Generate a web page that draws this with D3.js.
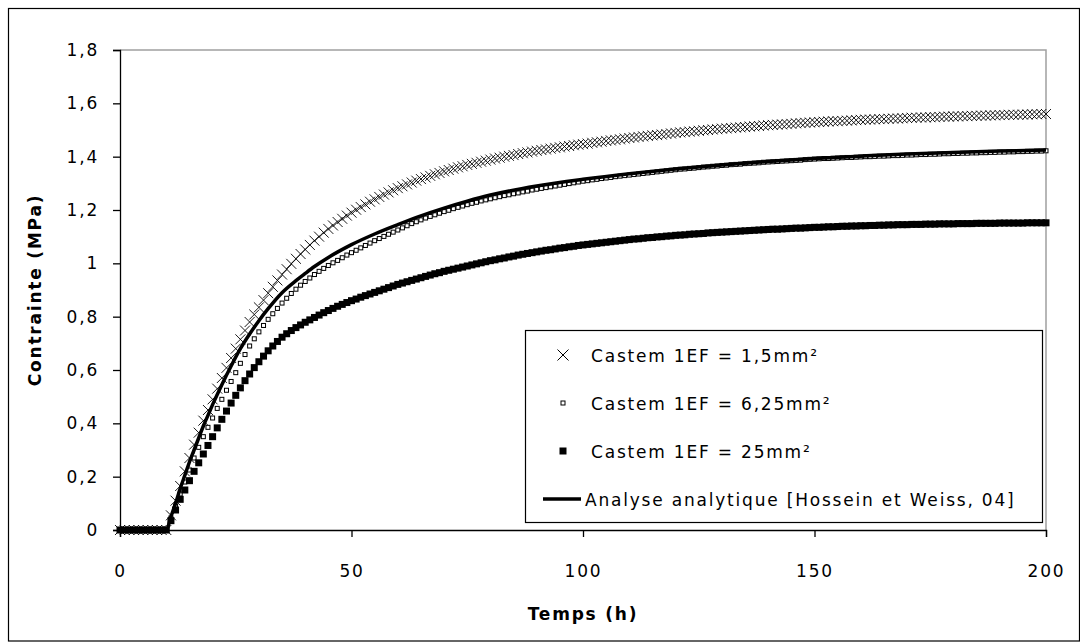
<!DOCTYPE html>
<html><head><meta charset="utf-8">
<script src="https://cdn.jsdelivr.net/npm/d3@7"></script>
<style>body{margin:0;background:#fff} svg text{font-family:"DejaVu Sans",sans-serif;fill:#000}</style>
</head><body><svg id="c" width="1080" height="642"></svg>
<script>
// ---------- DATA ----------
const hours = d3.range(0, 201, 1); // hourly sampling grid, t = 0..200 h

const castem15 = [0,0,0,0,0,0,0,0,0,0, 0,
0.055,0.11,0.165,0.22,0.27,0.32,0.365,0.41,0.45,0.49,
0.53,0.57,0.608,0.645,0.68,0.715,0.748,0.78,0.808,0.835,
0.862,0.888,0.912,0.936,0.958,0.978,0.998,1.017,1.035,1.052,
1.069,1.085,1.100,1.115,1.129,1.142,1.155,1.167,1.179,1.190,
1.201,1.211,1.221,1.231,1.240,1.249,1.258,1.266,1.274,1.282,
1.289,1.296,1.303,1.310,1.316,1.322,1.328,1.334,1.339,1.345,
1.350,1.355,1.360,1.364,1.369,1.373,1.377,1.381,1.385,1.389,
1.393,1.396,1.400,1.403,1.406,1.410,1.413,1.416,1.419,1.422,
1.425,1.427,1.430,1.433,1.435,1.438,1.440,1.443,1.445,1.447,
1.449,1.452,1.454,1.456,1.459,1.461,1.463,1.465,1.468,1.470,
1.472,1.474,1.476,1.478,1.480,1.481,1.483,1.485,1.487,1.489,
1.491,1.492,1.494,1.495,1.497,1.499,1.500,1.502,1.503,1.505,
1.506,1.507,1.509,1.510,1.511,1.513,1.514,1.515,1.517,1.518,
1.519,1.520,1.521,1.522,1.523,1.525,1.526,1.527,1.528,1.529,
1.530,1.531,1.532,1.533,1.533,1.534,1.535,1.536,1.537,1.538,
1.539,1.539,1.540,1.541,1.541,1.542,1.543,1.543,1.544,1.545,
1.546,1.546,1.547,1.547,1.548,1.548,1.549,1.550,1.550,1.551,
1.551,1.552,1.552,1.553,1.553,1.554,1.554,1.555,1.555,1.556,
1.556,1.557,1.557,1.557,1.558,1.558,1.559,1.559,1.560,1.560];

const castem625 = [0,0,0,0,0,0,0,0,0,0, 0,
0.045,0.09,0.135,0.18,0.225,0.27,0.31,0.35,0.385,0.42,
0.456,0.49,0.524,0.557,0.59,0.625,0.658,0.69,0.717,0.743,
0.767,0.79,0.811,0.831,0.851,0.869,0.887,0.903,0.918,0.932,
0.945,0.958,0.970,0.981,0.992,1.002,1.011,1.021,1.031,1.040,
1.049,1.058,1.067,1.076,1.085,1.093,1.101,1.109,1.117,1.125,
1.133,1.141,1.149,1.156,1.163,1.170,1.176,1.182,1.188,1.194,
1.199,1.205,1.210,1.215,1.220,1.225,1.229,1.234,1.238,1.242,
1.246,1.250,1.254,1.257,1.261,1.264,1.268,1.271,1.275,1.278,
1.281,1.284,1.287,1.290,1.293,1.296,1.299,1.302,1.305,1.308,
1.310,1.313,1.315,1.318,1.320,1.322,1.325,1.327,1.329,1.331,
1.333,1.335,1.337,1.339,1.341,1.343,1.345,1.347,1.349,1.351,
1.353,1.354,1.356,1.357,1.359,1.361,1.362,1.364,1.365,1.367,
1.368,1.370,1.371,1.372,1.374,1.375,1.376,1.377,1.379,1.380,
1.381,1.382,1.383,1.384,1.385,1.386,1.387,1.389,1.390,1.391,
1.392,1.393,1.393,1.394,1.395,1.396,1.397,1.397,1.398,1.399,
1.400,1.400,1.401,1.402,1.402,1.403,1.404,1.404,1.405,1.406,
1.406,1.407,1.408,1.408,1.409,1.409,1.410,1.411,1.411,1.412,
1.412,1.413,1.413,1.414,1.414,1.415,1.415,1.416,1.416,1.417,
1.417,1.418,1.418,1.419,1.419,1.420,1.420,1.421,1.421,1.422];

const castem25 = [0,0,0,0,0,0,0,0,0,0, 0,
0.035,0.075,0.115,0.15,0.185,0.22,0.252,0.285,0.317,0.35,
0.383,0.415,0.446,0.476,0.505,0.533,0.56,0.585,0.609,0.631,
0.652,0.672,0.690,0.707,0.723,0.736,0.748,0.759,0.769,0.779,
0.788,0.797,0.806,0.815,0.823,0.831,0.839,0.846,0.853,0.860,
0.866,0.873,0.879,0.885,0.891,0.897,0.903,0.909,0.915,0.921,
0.926,0.931,0.936,0.941,0.946,0.951,0.956,0.961,0.965,0.970,
0.974,0.978,0.982,0.986,0.990,0.994,0.998,1.002,1.006,1.010,
1.013,1.017,1.020,1.024,1.027,1.031,1.034,1.037,1.040,1.043,
1.046,1.049,1.051,1.054,1.057,1.059,1.062,1.064,1.067,1.069,
1.071,1.073,1.075,1.077,1.079,1.081,1.083,1.085,1.087,1.089,
1.091,1.092,1.094,1.096,1.097,1.099,1.100,1.102,1.103,1.105,
1.106,1.107,1.109,1.110,1.111,1.112,1.114,1.115,1.116,1.117,
1.118,1.119,1.120,1.121,1.122,1.123,1.124,1.125,1.126,1.127,
1.128,1.128,1.129,1.130,1.131,1.132,1.132,1.133,1.134,1.135,
1.135,1.136,1.137,1.137,1.138,1.139,1.139,1.140,1.140,1.141,
1.141,1.142,1.142,1.143,1.143,1.144,1.144,1.145,1.145,1.145,
1.146,1.146,1.146,1.147,1.147,1.147,1.148,1.148,1.148,1.148,
1.149,1.149,1.149,1.149,1.150,1.150,1.150,1.150,1.150,1.151,
1.151,1.151,1.151,1.151,1.151,1.152,1.152,1.152,1.152,1.152];

const analyticT = [0,10,11,12,13,14,15,16,17,18,19,20,22,24,26,28,30,32,35,38,40,42,45,50,55,60,65,70,75,80,90,100,110,120,130,140,150,160,170,180,190,200];
const analyticV = [0,0,0.05,0.10,0.155,0.205,0.255,0.30,0.345,0.39,0.43,0.47,0.545,0.615,0.68,0.735,0.785,0.83,0.89,0.935,0.962,0.988,1.022,1.07,1.11,1.145,1.178,1.207,1.233,1.256,1.290,1.315,1.336,1.354,1.369,1.382,1.393,1.402,1.410,1.416,1.421,1.425];

const xTicks = [0,50,100,150,200];
const xTickLabels = ["0","50","100","150","200"];
const yTicks = [0,0.2,0.4,0.6,0.8,1,1.2,1.4,1.6,1.8];
const yTickLabels = ["0","0,2","0,4","0,6","0,8","1","1,2","1,4","1,6","1,8"];
const legendLabels = ["Castem 1EF = 1,5mm²","Castem 1EF = 6,25mm²","Castem 1EF = 25mm²","Analyse analytique [Hossein et Weiss, 04]"];
const xTitle = "Temps (h)";
const yTitle = "Contrainte (MPa)";

// ---------- DRAW ----------
const svg = d3.select("#c");
const FS = "17px", LS = "1.8px";
svg.append("rect").attr("x",0).attr("y",0).attr("width",1080).attr("height",642).attr("fill","#fff");
svg.append("rect").attr("x",8.5).attr("y",8.5).attr("width",1071).attr("height",632.5)
  .attr("fill","none").attr("stroke","#000").attr("stroke-width",1.2);

const x = d3.scaleLinear().domain([0,200]).range([120,1046]);
const y = d3.scaleLinear().domain([0,1.8]).range([530,50]);

// plot area border (top & right, gray)
svg.append("path").attr("d",`M${x(0)},${y(1.8)}H${x(200)}V${y(0)}`)
  .attr("fill","none").attr("stroke","#a0a0a0").attr("stroke-width",1.5);

const gx = svg.append("g").attr("transform",`translate(0,${y(0)})`)
  .call(d3.axisBottom(x).tickValues(xTicks).tickSize(7).tickPadding(28)
    .tickFormat((d,i)=>xTickLabels[i]));
const gy = svg.append("g").attr("transform",`translate(${x(0)},0)`)
  .call(d3.axisLeft(y).tickValues(yTicks).tickSize(7).tickPadding(14)
    .tickFormat((d,i)=>yTickLabels[i]));
[gx,gy].forEach(g=>{
  g.selectAll("path,line").attr("stroke","#000").attr("stroke-width",1.3);
  g.selectAll("text").attr("font-size",FS).style("letter-spacing",LS).attr("font-family","DejaVu Sans");
});

svg.append("text").attr("x",(x(0)+x(200))/2).attr("y",620).attr("text-anchor","middle")
  .attr("font-size",FS).attr("font-weight","bold").style("letter-spacing",LS).text(xTitle);
svg.append("text").attr("transform",`translate(41,${(y(0)+y(1.8))/2}) rotate(-90)`)
  .attr("text-anchor","middle").attr("font-size",FS).attr("font-weight","bold")
  .style("letter-spacing",LS).text(yTitle);

const crossPath = s => `M${-s},${-s}L${s},${s}M${-s},${s}L${s},${-s}`;

// series 1: crosses
svg.append("g").selectAll("path").data(hours).join("path")
  .attr("transform",(d,i)=>`translate(${x(d)},${y(castem15[i])})`)
  .attr("d",crossPath(5)).attr("stroke","#000").attr("stroke-width",0.9).attr("fill","none");
// series 2: small hollow squares
svg.append("g").selectAll("rect").data(hours).join("rect")
  .attr("x",d=>x(d)-2).attr("y",(d,i)=>y(castem625[i])-2).attr("width",4).attr("height",4)
  .attr("fill","#fff").attr("stroke","#000").attr("stroke-width",1);
// series 3: filled squares
svg.append("g").selectAll("rect").data(hours).join("rect")
  .attr("x",d=>x(d)-3.5).attr("y",(d,i)=>y(castem25[i])-3.5).attr("width",7).attr("height",7)
  .attr("fill","#000");
// analytic line
const line = d3.line().x(d=>x(d[0])).y(d=>y(d[1])).curve(d3.curveMonotoneX);
svg.append("path").datum(analyticT.map((t,i)=>[t,analyticV[i]]))
  .attr("d",line).attr("fill","none").attr("stroke","#000").attr("stroke-width",3.5)
  .attr("stroke-linejoin","round");

// legend
const lg = svg.append("g");
lg.append("rect").attr("x",525.5).attr("y",330.5).attr("width",517).attr("height",192)
  .attr("fill","#fff").attr("stroke","#000").attr("stroke-width",1.2);
const rowY = [355,403,451,499];
const mx = 563;
lg.append("path").attr("transform",`translate(${mx},${rowY[0]})`).attr("d",crossPath(5.5))
  .attr("stroke","#000").attr("stroke-width",1).attr("fill","none");
lg.append("rect").attr("x",mx-2).attr("y",rowY[1]-2).attr("width",4).attr("height",4)
  .attr("fill","#fff").attr("stroke","#000").attr("stroke-width",1);
lg.append("rect").attr("x",mx-3.5).attr("y",rowY[2]-3.5).attr("width",7).attr("height",7).attr("fill","#000");
lg.append("line").attr("x1",543).attr("x2",581).attr("y1",rowY[3]).attr("y2",rowY[3])
  .attr("stroke","#000").attr("stroke-width",3.5);
legendLabels.forEach((t,i)=>{
  lg.append("text").attr("x",i<3?591:585).attr("y",rowY[i]+7).attr("font-size",FS)
    .style("letter-spacing",LS).text(t);
});
</script></body></html>
